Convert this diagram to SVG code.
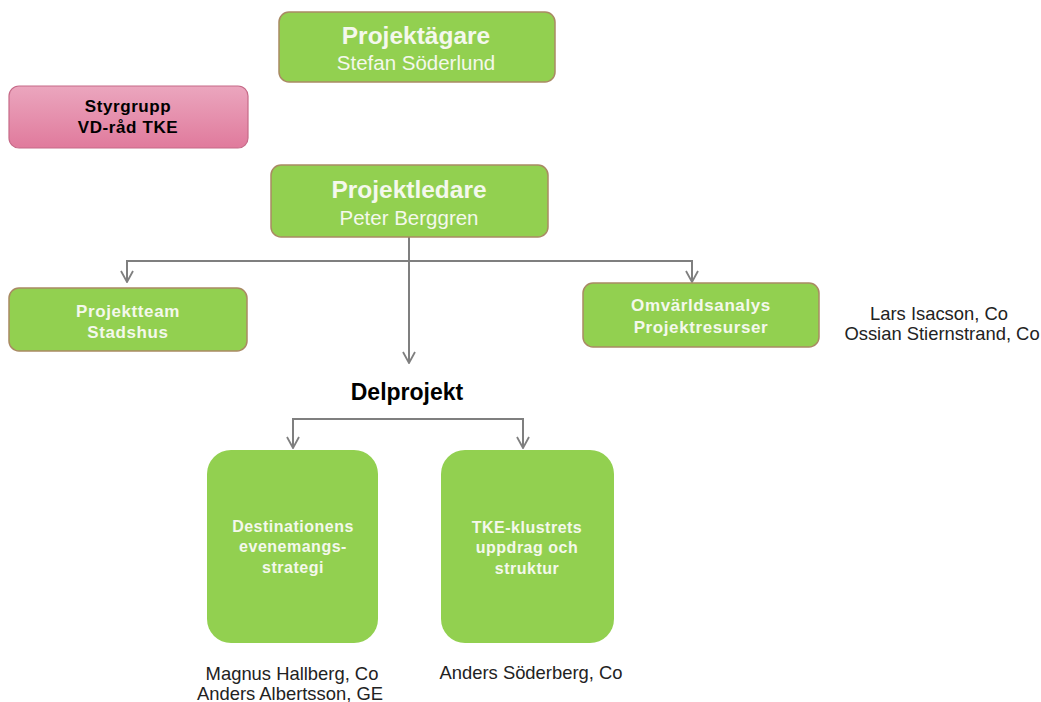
<svg xmlns="http://www.w3.org/2000/svg" width="1041" height="702" viewBox="0 0 1041 702">
<defs>
<linearGradient id="pink" x1="0" y1="0" x2="0" y2="1">
<stop offset="0" stop-color="#EBA6BE"/>
<stop offset="1" stop-color="#E07A9C"/>
</linearGradient>
<marker id="arr" viewBox="0 0 14 14" refX="13" refY="7" markerWidth="14" markerHeight="14" markerUnits="userSpaceOnUse" orient="auto-start-reverse">
<path d="M2,1 L13,7 L2,13" fill="none" stroke="#7F7F7F" stroke-width="1.8"/>
</marker>
</defs>
<style>
.g{fill:#92D050;stroke:#A98A63;stroke-width:1.5}
.g2{fill:#92D050;stroke:none}
.p{fill:url(#pink);stroke:#C66A88;stroke-width:1.2}
.wt{font-family:"Liberation Sans",Arial,sans-serif;fill:#F4F8EC;text-anchor:middle}
.bt{font-family:"Liberation Sans",Arial,sans-serif;fill:#000;text-anchor:middle}
.sm{font-size:17px;font-weight:bold;letter-spacing:0.6px}
.dp{font-size:16px;font-weight:bold;letter-spacing:0.5px}
.nm{font-family:"Liberation Sans",Arial,sans-serif;fill:#222;text-anchor:middle;font-size:18.4px}
.c{fill:none;stroke:#7F7F7F;stroke-width:2}
</style>
<rect width="1041" height="702" fill="#fff"/>
<g id="connectors">
<path class="c" d="M409,237 V363" marker-end="url(#arr)"/>
<path class="c" d="M127,282 V261 H692 V282" marker-start="url(#arr)" marker-end="url(#arr)"/>
<path class="c" d="M293,448 V419 H523 V448" marker-start="url(#arr)" marker-end="url(#arr)"/>
</g>
<g id="projektagare">
<rect class="g" x="279" y="12" width="276" height="70" rx="10"/>
<text class="wt" x="416" y="44" font-size="24.5" font-weight="bold">Projektägare</text>
<text class="wt" x="416" y="70" font-size="20.5">Stefan Söderlund</text>
</g>
<g id="styrgrupp">
<rect class="p" x="9" y="86" width="239" height="62" rx="10"/>
<text class="bt sm" x="128" y="112">Styrgrupp</text>
<text class="bt sm" x="128" y="133">VD-råd TKE</text>
</g>
<g id="projektledare">
<rect class="g" x="271" y="165" width="277" height="72" rx="10"/>
<text class="wt" x="409" y="198" font-size="24.5" font-weight="bold">Projektledare</text>
<text class="wt" x="409" y="225" font-size="20.5">Peter Berggren</text>
</g>
<g id="projektteam">
<rect class="g" x="9" y="288" width="238" height="63" rx="10"/>
<text class="wt sm" x="128" y="317">Projektteam</text>
<text class="wt sm" x="128" y="338">Stadshus</text>
</g>
<g id="omvarldsanalys">
<rect class="g" x="583" y="283" width="236" height="64" rx="10"/>
<text class="wt sm" x="701" y="311">Omvärldsanalys</text>
<text class="wt sm" x="701" y="333">Projektresurser</text>
<text class="nm" x="939" y="320">Lars Isacson, Co</text>
<text class="nm" x="942" y="340">Ossian Stiernstrand, Co</text>
</g>
<g id="delprojekt">
<text class="bt" x="407" y="400" font-size="23" font-weight="bold">Delprojekt</text>
</g>
<g id="destination">
<rect class="g2" x="207" y="450" width="171" height="193" rx="24"/>
<text class="wt dp" x="293" y="532">Destinationens</text>
<text class="wt dp" x="293" y="552">evenemangs-</text>
<text class="wt dp" x="293" y="573">strategi</text>
<text class="nm" x="292" y="680">Magnus Hallberg, Co</text>
<text class="nm" x="290" y="700">Anders Albertsson, GE</text>
</g>
<g id="tke">
<rect class="g2" x="441" y="450" width="173" height="193" rx="24"/>
<text class="wt dp" x="527" y="533">TKE-klustrets</text>
<text class="wt dp" x="527" y="553">uppdrag och</text>
<text class="wt dp" x="527" y="574">struktur</text>
<text class="nm" x="531" y="679">Anders Söderberg, Co</text>
</g>
</svg>
